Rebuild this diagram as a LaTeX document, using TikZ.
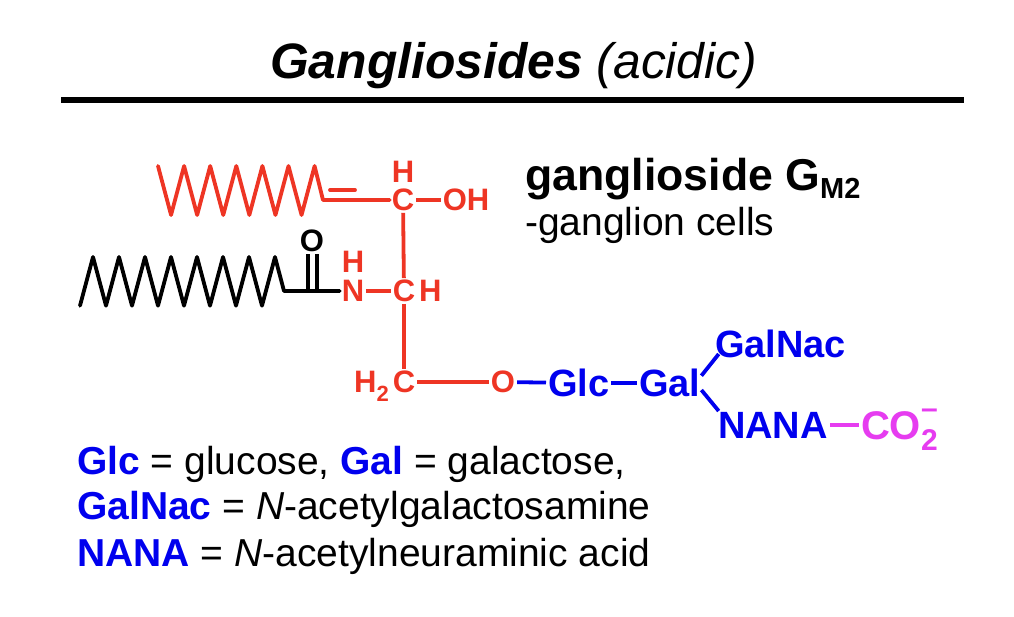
\documentclass[tikz,border=0pt]{standalone}
\usepackage{fontspec}
\setmainfont{Liberation Sans}
\usepackage{tikz}
\definecolor{lipidred}{HTML}{EE3524}
\definecolor{sugarblue}{HTML}{0000EE}
\definecolor{acidpink}{HTML}{E63CF0}
\newcommand{\fsize}[1]{\fontsize{#1}{#1}\selectfont}
\newcommand{\lowtwo}[1]{\raisebox{-0.28em}{\fsize{#1}2}}
\tikzstyle{atom}=[inner sep=0, outer sep=2pt, font=\bfseries\fsize{31}]
\tikzstyle{ratom}=[atom, text=lipidred]
\tikzstyle{batom}=[atom, text=black]
\tikzstyle{sugar}=[atom, text=sugarblue, font=\bfseries\fsize{38}]
\tikzstyle{bond}=[line width=3.8pt, line join=round]
\tikzstyle{rbond}=[bond, draw=lipidred]
\tikzstyle{kbond}=[bond, draw=black]
\tikzstyle{ubond}=[bond, draw=sugarblue]
\tikzstyle{legend}=[inner sep=0, anchor=base west, font=\fsize{39}]
\begin{document}
\begin{tikzpicture}[x=1pt, y=-1pt]
        \useasboundingbox (0, 0) rectangle (1014, 616);
        % Heading
        \node[inner sep=0, anchor=base west, font=\fsize{49.8}] (title) at (270, 78) {\textbf{\textit{Gangliosides}} \textit{(acidic)}};
        \coordinate (ruleL) at (61, 100);
        \coordinate (ruleR) at (964, 100);
        \draw[line width=6pt] (ruleL) -- (ruleR);
        \node[legend, font=\bfseries\fsize{44.6}] (name) at (525, 190) {ganglioside G\raisebox{-0.2em}{\fsize{29}M2}};
        \node[legend] (cells) at (525, 235) {-ganglion cells};
        % Lipid part
        \node[ratom] (Htop) at (403, 172) {H};
        \node[ratom] (C1) at (403, 200) {C};
        \node[ratom] (OH) at (466, 200) {OH};
        \node[ratom] (Hn) at (353, 262) {H};
        \node[ratom] (N) at (353, 291) {N};
        \node[ratom] (C2) at (404, 291) {C};
        \node[ratom, anchor=west] (C2H) at (C2.east) {H};
        \node[ratom] (C3) at (404, 382) {C};
        \node[ratom, anchor=base east] (H2) at (C3.base west) {H\lowtwo{22}};
        \node[ratom] (O) at (503, 382) {O};
        \node[batom] (Oc) at (312, 241) {O};
        \coordinate (zigR) at (158, 166);
        \coordinate (kinkR) at (323, 200);
        \coordinate (dblL) at (330, 190);
        \coordinate (dblR) at (355, 190);
        \coordinate (zigK) at (80, 305.7);
        \coordinate (kinkK) at (284, 291);
        \draw[rbond, line cap=round] (zigR) foreach \i in {1,...,6} { -- ++(13.05, 49) -- ++(13.05, -49)} -- (kinkR) -- (C1);
        \draw[rbond, line cap=round] (dblL) -- (dblR);
        \draw[rbond] (C1) -- (OH);
        \draw[rbond] (C1) -- (C2);
        \draw[rbond] (N) -- (C2);
        \draw[rbond] (C2) -- (C3);
        \draw[rbond] (C3) -- (O);
        \draw[kbond, line cap=round] (zigK) foreach \i in {1,...,7} { -- ++(13, -48.7) -- ++(13, 48.7)} -- ++(13, -48.7) -- (kinkK) -- (N);
        \coordinate (dbA) at (308.3, 291);
        \coordinate (dbB) at (317.3, 291);
        \draw[kbond] (dbA) -- (dbA |- Oc.south);
        \draw[kbond] (dbB) -- (dbB |- Oc.south);
        % Sugars
        \node[sugar, anchor=west] (Glc) at (546, 383) {Glc};
        \node[sugar, anchor=west] (Gal) at (637, 383) {Gal};
        \node[sugar, anchor=west] (GalNac) at (713, 344) {GalNac};
        \node[sugar, anchor=west] (NANA) at (716, 425) {NANA};
        \node[atom, text=acidpink, font=\bfseries\fsize{40}, anchor=base west] (CO) at (859, 439) {CO\lowtwo{30}\llap{\raisebox{0.52em}{\fsize{30}–}}};
        \coordinate (galU) at (701.4, 375.7);
        \coordinate (galD) at (701.4, 390);
        \coordinate (nacE) at (718.7, 354);
        \coordinate (naE) at (718.7, 411);
        \draw[ubond] (O) -- (Glc);
        \draw[ubond] (Glc) -- (Gal);
        \draw[ubond] (galU) -- (nacE);
        \draw[ubond] (galD) -- (naE);
        \draw[bond, draw=acidpink] (NANA.east) -- (NANA.east -| CO.west);
        % Key
        \node[legend] (keyA) at (77, 474) {\textcolor{sugarblue}{\textbf{Glc}} = glucose, \textcolor{sugarblue}{\textbf{Gal}} = galactose,};
        \node[legend] (keyB) at (77, 519) {\textcolor{sugarblue}{\textbf{GalNac}} = \textit{N}-acetylgalactosamine};
        \node[legend] (keyC) at (77, 566) {\textcolor{sugarblue}{\textbf{NANA}} = \textit{N}-acetylneuraminic acid};
    \end{tikzpicture}
\end{document}
